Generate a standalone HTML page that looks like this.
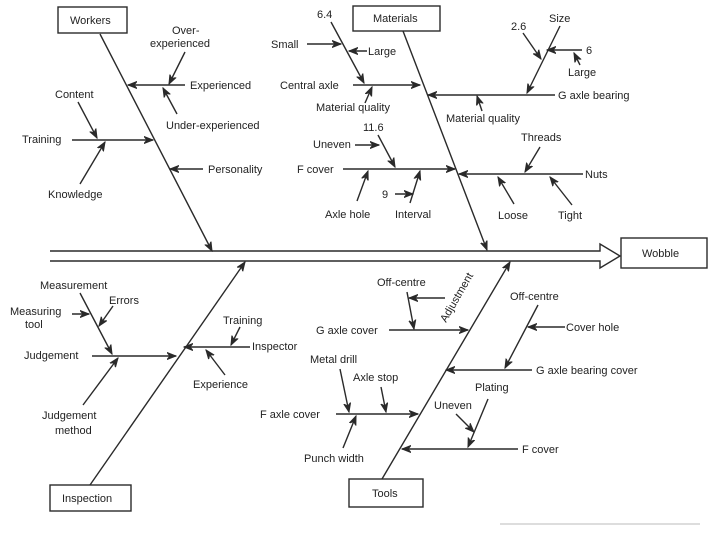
<!DOCTYPE html>
<html><head><meta charset="utf-8"><style>
html,body{margin:0;padding:0;background:#fff}
svg{display:block}
text{font-family:"Liberation Sans",sans-serif;font-size:11px;fill:#222}
line,polyline,rect,path{stroke:#2a2a2a;stroke-width:1.4;fill:none}
</style></head><body>
<svg width="720" height="540" viewBox="0 0 720 540">
<defs>
<marker id="a" markerWidth="10" markerHeight="8" refX="9" refY="4" orient="auto" markerUnits="userSpaceOnUse">
<path d="M0,0.5 L9,4 L0,7.5 L3,4 Z" style="stroke:#2a2a2a;stroke-width:1;fill:#2a2a2a"/>
</marker>
</defs>
<!-- spine -->
<path d="M50,251 L600,251 L600,244 L620,256 L600,268 L600,261 L50,261" />
<rect x="621" y="238" width="86" height="30"/>
<text x="642" y="257">Wobble</text>

<!-- Workers -->
<rect x="58" y="7" width="69" height="26"/>
<text x="70" y="24">Workers</text>
<line x1="100" y1="34" x2="212" y2="251" marker-end="url(#a)"/>
<line x1="185" y1="85" x2="128" y2="85" marker-end="url(#a)"/>
<text x="190" y="89">Experienced</text>
<text x="172" y="34">Over-</text><text x="150" y="47">experienced</text>
<line x1="185" y1="52" x2="169" y2="84" marker-end="url(#a)"/>
<text x="166" y="129">Under-experienced</text>
<line x1="177" y1="114" x2="163" y2="88" marker-end="url(#a)"/>
<line x1="72" y1="140" x2="153" y2="140" marker-end="url(#a)"/>
<text x="22" y="143">Training</text>
<text x="55" y="98">Content</text>
<line x1="78" y1="102" x2="97" y2="138" marker-end="url(#a)"/>
<text x="48" y="198">Knowledge</text>
<line x1="80" y1="184" x2="105" y2="142" marker-end="url(#a)"/>
<line x1="203" y1="169" x2="170" y2="169" marker-end="url(#a)"/>
<text x="208" y="173">Personality</text>

<!-- Materials -->
<rect x="353" y="6" width="87" height="25"/>
<text x="373" y="22">Materials</text>
<line x1="403" y1="31" x2="487" y2="250" marker-end="url(#a)"/>
<line x1="353" y1="85" x2="420" y2="85" marker-end="url(#a)"/>
<text x="280" y="89">Central axle</text>
<text x="317" y="18">6.4</text>
<line x1="331" y1="22" x2="364" y2="83" marker-end="url(#a)"/>
<text x="271" y="48">Small</text>
<line x1="307" y1="44" x2="341" y2="44" marker-end="url(#a)"/>
<text x="368" y="55">Large</text>
<line x1="367" y1="51" x2="349" y2="51" marker-end="url(#a)"/>
<text x="316" y="111">Material quality</text>
<line x1="365" y1="103" x2="372" y2="87" marker-end="url(#a)"/>
<line x1="555" y1="95" x2="428" y2="95" marker-end="url(#a)"/>
<text x="558" y="99">G axle bearing</text>
<text x="549" y="22">Size</text>
<line x1="560" y1="26" x2="527" y2="93" marker-end="url(#a)"/>
<text x="511" y="30">2.6</text>
<line x1="523" y1="33" x2="541" y2="59" marker-end="url(#a)"/>
<text x="586" y="54">6</text>
<line x1="582" y1="50" x2="547" y2="50" marker-end="url(#a)"/>
<text x="568" y="76">Large</text>
<line x1="580" y1="65" x2="574" y2="53" marker-end="url(#a)"/>
<text x="446" y="122">Material quality</text>
<line x1="482" y1="111" x2="477" y2="96" marker-end="url(#a)"/>
<line x1="343" y1="169" x2="455" y2="169" marker-end="url(#a)"/>
<text x="297" y="173">F cover</text>
<text x="363" y="131">11.6</text>
<line x1="378" y1="135" x2="395" y2="167" marker-end="url(#a)"/>
<text x="313" y="148">Uneven</text>
<line x1="355" y1="145" x2="379" y2="145" marker-end="url(#a)"/>
<text x="325" y="218">Axle hole</text>
<line x1="357" y1="201" x2="368" y2="171" marker-end="url(#a)"/>
<text x="382" y="198">9</text>
<line x1="395" y1="194" x2="413" y2="194" marker-end="url(#a)"/>
<text x="395" y="218">Interval</text>
<line x1="410" y1="203" x2="420" y2="171" marker-end="url(#a)"/>
<line x1="583" y1="174" x2="459" y2="174" marker-end="url(#a)"/>
<text x="585" y="178">Nuts</text>
<text x="521" y="141">Threads</text>
<line x1="540" y1="147" x2="525" y2="172" marker-end="url(#a)"/>
<text x="498" y="219">Loose</text>
<line x1="514" y1="204" x2="498" y2="177" marker-end="url(#a)"/>
<text x="558" y="219">Tight</text>
<line x1="572" y1="205" x2="550" y2="177" marker-end="url(#a)"/>

<!-- Inspection -->
<rect x="50" y="485" width="81" height="26"/>
<text x="62" y="502">Inspection</text>
<line x1="90" y1="485" x2="245" y2="262" marker-end="url(#a)"/>
<line x1="92" y1="356" x2="176" y2="356" marker-end="url(#a)"/>
<text x="24" y="359">Judgement</text>
<text x="40" y="289">Measurement</text>
<line x1="80" y1="293" x2="112" y2="354" marker-end="url(#a)"/>
<text x="10" y="315">Measuring</text><text x="25" y="328">tool</text>
<line x1="72" y1="314" x2="89" y2="314" marker-end="url(#a)"/>
<text x="109" y="304">Errors</text>
<line x1="113" y1="306" x2="99" y2="326" marker-end="url(#a)"/>
<text x="42" y="419">Judgement</text><text x="55" y="434">method</text>
<line x1="83" y1="405" x2="118" y2="358" marker-end="url(#a)"/>
<line x1="250" y1="347" x2="184" y2="347" marker-end="url(#a)"/>
<text x="252" y="350">Inspector</text>
<text x="223" y="324">Training</text>
<line x1="240" y1="327" x2="231" y2="345" marker-end="url(#a)"/>
<text x="193" y="388">Experience</text>
<line x1="225" y1="375" x2="206" y2="350" marker-end="url(#a)"/>

<!-- Tools -->
<rect x="349" y="479" width="74" height="28"/>
<text x="372" y="497">Tools</text>
<line x1="382" y1="479" x2="510" y2="262" marker-end="url(#a)"/>
<line x1="389" y1="330" x2="468" y2="330" marker-end="url(#a)"/>
<text x="316" y="334">G axle cover</text>
<text x="377" y="286">Off-centre</text>
<line x1="445" y1="298" x2="409" y2="298" marker-end="url(#a)"/>
<line x1="407" y1="292" x2="414" y2="329" marker-end="url(#a)"/>
<text x="0" y="0" transform="translate(446,323) rotate(-60)">Adjustment</text>
<line x1="532" y1="370" x2="446" y2="370" marker-end="url(#a)"/>
<text x="536" y="374">G axle bearing cover</text>
<text x="510" y="300">Off-centre</text>
<line x1="538" y1="305" x2="505" y2="368" marker-end="url(#a)"/>
<text x="566" y="331">Cover hole</text>
<line x1="565" y1="327" x2="528" y2="327" marker-end="url(#a)"/>
<line x1="336" y1="414" x2="418" y2="414" marker-end="url(#a)"/>
<text x="260" y="418">F axle cover</text>
<text x="310" y="363">Metal drill</text>
<line x1="340" y1="369" x2="349" y2="412" marker-end="url(#a)"/>
<text x="353" y="381">Axle stop</text>
<line x1="381" y1="387" x2="386" y2="412" marker-end="url(#a)"/>
<text x="304" y="462">Punch width</text>
<line x1="343" y1="448" x2="356" y2="416" marker-end="url(#a)"/>
<line x1="518" y1="449" x2="402" y2="449" marker-end="url(#a)"/>
<text x="522" y="453">F cover</text>
<text x="475" y="391">Plating</text>
<line x1="488" y1="399" x2="468" y2="447" marker-end="url(#a)"/>
<text x="434" y="409">Uneven</text>
<line x1="456" y1="414" x2="474" y2="432" marker-end="url(#a)"/>
<line x1="500" y1="524" x2="700" y2="524" style="stroke:#bbb;stroke-width:1"/>
</svg>
</body></html>
